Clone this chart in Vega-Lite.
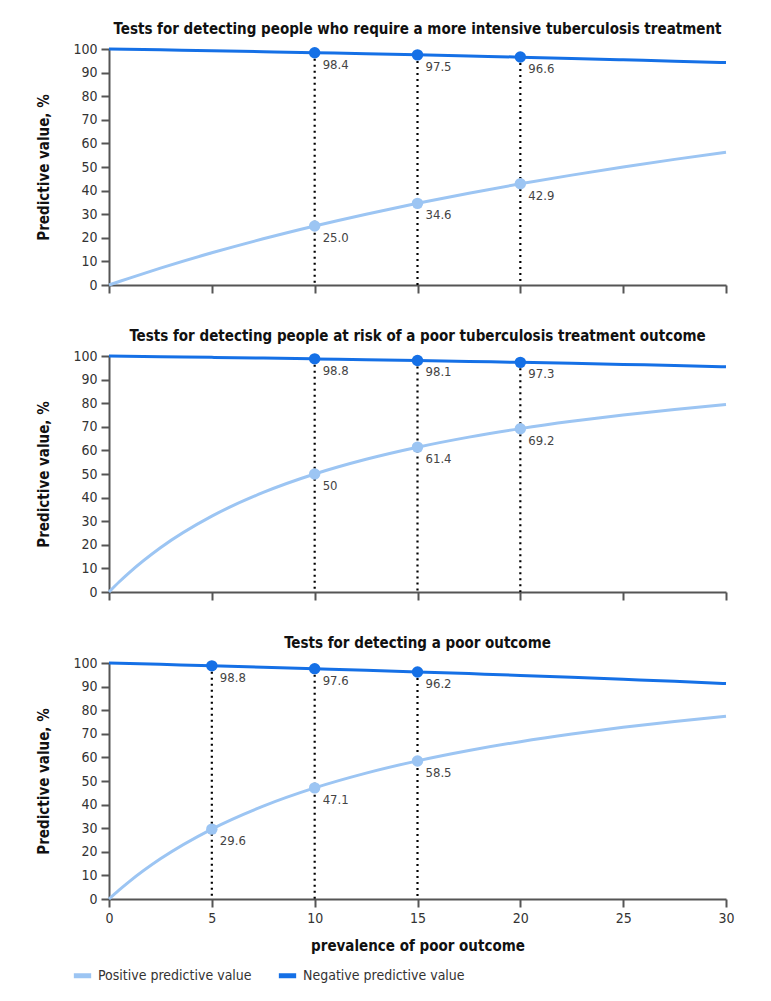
{
  "$schema": "https://vega.github.io/schema/vega-lite/v6.json",
  "background": "white",
  "padding": {"left": 36, "top": 22, "right": 30, "bottom": 10},
  "datasets": {
    "pts": [
      {"panel": "A", "p": 0, "s": "PPV", "v": 0},
      {"panel": "A", "p": 0.5, "s": "PPV", "v": 1.49},
      {"panel": "A", "p": 1, "s": "PPV", "v": 2.94},
      {"panel": "A", "p": 2.5, "s": "PPV", "v": 7.14},
      {"panel": "A", "p": 5, "s": "PPV", "v": 13.64},
      {"panel": "A", "p": 7.5, "s": "PPV", "v": 19.57},
      {"panel": "A", "p": 10, "s": "PPV", "v": 25.0},
      {"panel": "A", "p": 12.5, "s": "PPV", "v": 30.0},
      {"panel": "A", "p": 15, "s": "PPV", "v": 34.62},
      {"panel": "A", "p": 17.5, "s": "PPV", "v": 38.89},
      {"panel": "A", "p": 20, "s": "PPV", "v": 42.86},
      {"panel": "A", "p": 22.5, "s": "PPV", "v": 46.55},
      {"panel": "A", "p": 25, "s": "PPV", "v": 50.0},
      {"panel": "A", "p": 27.5, "s": "PPV", "v": 53.23},
      {"panel": "A", "p": 30, "s": "PPV", "v": 56.25},
      {"panel": "A", "p": 0, "s": "NPV", "v": 100},
      {"panel": "A", "p": 2.5, "s": "NPV", "v": 99.64},
      {"panel": "A", "p": 5, "s": "NPV", "v": 99.25},
      {"panel": "A", "p": 7.5, "s": "NPV", "v": 98.85},
      {"panel": "A", "p": 10, "s": "NPV", "v": 98.44},
      {"panel": "A", "p": 12.5, "s": "NPV", "v": 98.0},
      {"panel": "A", "p": 15, "s": "NPV", "v": 97.54},
      {"panel": "A", "p": 17.5, "s": "NPV", "v": 97.06},
      {"panel": "A", "p": 20, "s": "NPV", "v": 96.55},
      {"panel": "A", "p": 22.5, "s": "NPV", "v": 96.02},
      {"panel": "A", "p": 25, "s": "NPV", "v": 95.45},
      {"panel": "A", "p": 27.5, "s": "NPV", "v": 94.86},
      {"panel": "A", "p": 30, "s": "NPV", "v": 94.23},
      {"panel": "B", "p": 0, "s": "PPV", "v": 0},
      {"panel": "B", "p": 0.5, "s": "PPV", "v": 4.33},
      {"panel": "B", "p": 1, "s": "PPV", "v": 8.33},
      {"panel": "B", "p": 2.5, "s": "PPV", "v": 18.75},
      {"panel": "B", "p": 5, "s": "PPV", "v": 32.14},
      {"panel": "B", "p": 7.5, "s": "PPV", "v": 42.19},
      {"panel": "B", "p": 10, "s": "PPV", "v": 50.0},
      {"panel": "B", "p": 12.5, "s": "PPV", "v": 56.25},
      {"panel": "B", "p": 15, "s": "PPV", "v": 61.36},
      {"panel": "B", "p": 17.5, "s": "PPV", "v": 65.63},
      {"panel": "B", "p": 20, "s": "PPV", "v": 69.23},
      {"panel": "B", "p": 22.5, "s": "PPV", "v": 72.32},
      {"panel": "B", "p": 25, "s": "PPV", "v": 75.0},
      {"panel": "B", "p": 27.5, "s": "PPV", "v": 77.34},
      {"panel": "B", "p": 30, "s": "PPV", "v": 79.41},
      {"panel": "B", "p": 0, "s": "NPV", "v": 100},
      {"panel": "B", "p": 2.5, "s": "NPV", "v": 99.72},
      {"panel": "B", "p": 5, "s": "NPV", "v": 99.42},
      {"panel": "B", "p": 7.5, "s": "NPV", "v": 99.11},
      {"panel": "B", "p": 10, "s": "NPV", "v": 98.78},
      {"panel": "B", "p": 12.5, "s": "NPV", "v": 98.44},
      {"panel": "B", "p": 15, "s": "NPV", "v": 98.08},
      {"panel": "B", "p": 17.5, "s": "NPV", "v": 97.7},
      {"panel": "B", "p": 20, "s": "NPV", "v": 97.3},
      {"panel": "B", "p": 22.5, "s": "NPV", "v": 96.88},
      {"panel": "B", "p": 25, "s": "NPV", "v": 96.43},
      {"panel": "B", "p": 27.5, "s": "NPV", "v": 95.96},
      {"panel": "B", "p": 30, "s": "NPV", "v": 95.45},
      {"panel": "C", "p": 0, "s": "PPV", "v": 0},
      {"panel": "C", "p": 0.5, "s": "PPV", "v": 3.86},
      {"panel": "C", "p": 1, "s": "PPV", "v": 7.48},
      {"panel": "C", "p": 2.5, "s": "PPV", "v": 17.02},
      {"panel": "C", "p": 5, "s": "PPV", "v": 29.63},
      {"panel": "C", "p": 7.5, "s": "PPV", "v": 39.34},
      {"panel": "C", "p": 10, "s": "PPV", "v": 47.06},
      {"panel": "C", "p": 12.5, "s": "PPV", "v": 53.33},
      {"panel": "C", "p": 15, "s": "PPV", "v": 58.54},
      {"panel": "C", "p": 17.5, "s": "PPV", "v": 62.92},
      {"panel": "C", "p": 20, "s": "PPV", "v": 66.67},
      {"panel": "C", "p": 22.5, "s": "PPV", "v": 69.9},
      {"panel": "C", "p": 25, "s": "PPV", "v": 72.73},
      {"panel": "C", "p": 27.5, "s": "PPV", "v": 75.21},
      {"panel": "C", "p": 30, "s": "PPV", "v": 77.42},
      {"panel": "C", "p": 0, "s": "NPV", "v": 100},
      {"panel": "C", "p": 2.5, "s": "NPV", "v": 99.43},
      {"panel": "C", "p": 5, "s": "NPV", "v": 98.84},
      {"panel": "C", "p": 7.5, "s": "NPV", "v": 98.23},
      {"panel": "C", "p": 10, "s": "NPV", "v": 97.59},
      {"panel": "C", "p": 12.5, "s": "NPV", "v": 96.92},
      {"panel": "C", "p": 15, "s": "NPV", "v": 96.23},
      {"panel": "C", "p": 17.5, "s": "NPV", "v": 95.5},
      {"panel": "C", "p": 20, "s": "NPV", "v": 94.74},
      {"panel": "C", "p": 22.5, "s": "NPV", "v": 93.94},
      {"panel": "C", "p": 25, "s": "NPV", "v": 93.1},
      {"panel": "C", "p": 27.5, "s": "NPV", "v": 92.23},
      {"panel": "C", "p": 30, "s": "NPV", "v": 91.3}
    ],
    "dots": [
      {"panel": "A", "p": 10, "s": "PPV", "v": 25.0, "label": "25.0"},
      {"panel": "A", "p": 15, "s": "PPV", "v": 34.6, "label": "34.6"},
      {"panel": "A", "p": 20, "s": "PPV", "v": 42.9, "label": "42.9"},
      {"panel": "A", "p": 10, "s": "NPV", "v": 98.4, "label": "98.4"},
      {"panel": "A", "p": 15, "s": "NPV", "v": 97.5, "label": "97.5"},
      {"panel": "A", "p": 20, "s": "NPV", "v": 96.6, "label": "96.6"},
      {"panel": "B", "p": 10, "s": "PPV", "v": 50, "label": "50"},
      {"panel": "B", "p": 15, "s": "PPV", "v": 61.4, "label": "61.4"},
      {"panel": "B", "p": 20, "s": "PPV", "v": 69.2, "label": "69.2"},
      {"panel": "B", "p": 10, "s": "NPV", "v": 98.8, "label": "98.8"},
      {"panel": "B", "p": 15, "s": "NPV", "v": 98.1, "label": "98.1"},
      {"panel": "B", "p": 20, "s": "NPV", "v": 97.3, "label": "97.3"},
      {"panel": "C", "p": 5, "s": "PPV", "v": 29.6, "label": "29.6"},
      {"panel": "C", "p": 10, "s": "PPV", "v": 47.1, "label": "47.1"},
      {"panel": "C", "p": 15, "s": "PPV", "v": 58.5, "label": "58.5"},
      {"panel": "C", "p": 5, "s": "NPV", "v": 98.8, "label": "98.8"},
      {"panel": "C", "p": 10, "s": "NPV", "v": 97.6, "label": "97.6"},
      {"panel": "C", "p": 15, "s": "NPV", "v": 96.2, "label": "96.2"}
    ]
  },
  "vconcat": [
    {
      "title": "Tests for detecting people who require a more intensive tuberculosis treatment",
      "width": 617,
      "height": 236,
      "encoding": {
        "x": {"field": "p", "type": "quantitative", "scale": {"domain": [0, 30], "nice": false}, "axis": {"labels": false, "title": null, "values": [0, 5, 10, 15, 20, 25, 30]}},
        "y": {"field": "v", "type": "quantitative", "scale": {"domain": [0, 100], "nice": false}, "axis": {"title": "Predictive value, %", "values": [0, 10, 20, 30, 40, 50, 60, 70, 80, 90, 100]}}
      },
      "layer": [
        {
          "data": {"name": "dots"},
          "transform": [{"filter": "datum.panel == 'A' && datum.s == 'NPV'"}],
          "mark": {"type": "rule", "color": "black", "strokeWidth": 2.2, "strokeDash": [2, 4]},
          "encoding": {"y2": {"datum": 0}}
        },
        {
          "data": {"name": "pts"},
          "transform": [{"filter": "datum.panel == 'A'"}],
          "mark": {"type": "line", "interpolate": "monotone", "strokeWidth": 3},
          "encoding": {
            "color": {"field": "s", "type": "nominal", "scale": {"domain": ["PPV", "NPV"], "range": ["#9cc5f3", "#1570e6"]}, "legend": {"labelExpr": "datum.label == 'PPV' ? 'Positive predictive value' : 'Negative predictive value'"}},
            "detail": {"field": "s"}
          }
        },
        {
          "data": {"name": "dots"},
          "transform": [{"filter": "datum.panel == 'A'"}],
          "mark": {"type": "circle", "size": 130, "opacity": 1},
          "encoding": {"color": {"field": "s", "type": "nominal"}}
        },
        {
          "data": {"name": "dots"},
          "transform": [{"filter": "datum.panel == 'A'"}],
          "mark": {"type": "text", "align": "left", "baseline": "middle", "dx": 8, "dy": 12, "fontSize": 13, "color": "#444"},
          "encoding": {"text": {"field": "label"}}
        }
      ]
    },
    {
      "title": "Tests for detecting people at risk of a poor tuberculosis treatment outcome",
      "width": 617,
      "height": 236,
      "encoding": {
        "x": {"field": "p", "type": "quantitative", "scale": {"domain": [0, 30], "nice": false}, "axis": {"labels": false, "title": null, "values": [0, 5, 10, 15, 20, 25, 30]}},
        "y": {"field": "v", "type": "quantitative", "scale": {"domain": [0, 100], "nice": false}, "axis": {"title": "Predictive value, %", "values": [0, 10, 20, 30, 40, 50, 60, 70, 80, 90, 100]}}
      },
      "layer": [
        {
          "data": {"name": "dots"},
          "transform": [{"filter": "datum.panel == 'B' && datum.s == 'NPV'"}],
          "mark": {"type": "rule", "color": "black", "strokeWidth": 2.2, "strokeDash": [2, 4]},
          "encoding": {"y2": {"datum": 0}}
        },
        {
          "data": {"name": "pts"},
          "transform": [{"filter": "datum.panel == 'B'"}],
          "mark": {"type": "line", "interpolate": "monotone", "strokeWidth": 3},
          "encoding": {
            "color": {"field": "s", "type": "nominal", "legend": {"labelExpr": "datum.label == 'PPV' ? 'Positive predictive value' : 'Negative predictive value'"}},
            "detail": {"field": "s"}
          }
        },
        {
          "data": {"name": "dots"},
          "transform": [{"filter": "datum.panel == 'B'"}],
          "mark": {"type": "circle", "size": 130, "opacity": 1},
          "encoding": {"color": {"field": "s", "type": "nominal"}}
        },
        {
          "data": {"name": "dots"},
          "transform": [{"filter": "datum.panel == 'B'"}],
          "mark": {"type": "text", "align": "left", "baseline": "middle", "dx": 8, "dy": 12, "fontSize": 13, "color": "#444"},
          "encoding": {"text": {"field": "label"}}
        }
      ]
    },
    {
      "title": "Tests for detecting a poor outcome",
      "width": 617,
      "height": 236,
      "encoding": {
        "x": {"field": "p", "type": "quantitative", "scale": {"domain": [0, 30], "nice": false}, "axis": {"title": "prevalence of poor outcome", "values": [0, 5, 10, 15, 20, 25, 30]}},
        "y": {"field": "v", "type": "quantitative", "scale": {"domain": [0, 100], "nice": false}, "axis": {"title": "Predictive value, %", "values": [0, 10, 20, 30, 40, 50, 60, 70, 80, 90, 100]}}
      },
      "layer": [
        {
          "data": {"name": "dots"},
          "transform": [{"filter": "datum.panel == 'C' && datum.s == 'NPV'"}],
          "mark": {"type": "rule", "color": "black", "strokeWidth": 2.2, "strokeDash": [2, 4]},
          "encoding": {"y2": {"datum": 0}}
        },
        {
          "data": {"name": "pts"},
          "transform": [{"filter": "datum.panel == 'C'"}],
          "mark": {"type": "line", "interpolate": "monotone", "strokeWidth": 3},
          "encoding": {
            "color": {"field": "s", "type": "nominal", "legend": {"labelExpr": "datum.label == 'PPV' ? 'Positive predictive value' : 'Negative predictive value'"}},
            "detail": {"field": "s"}
          }
        },
        {
          "data": {"name": "dots"},
          "transform": [{"filter": "datum.panel == 'C'"}],
          "mark": {"type": "circle", "size": 130, "opacity": 1},
          "encoding": {"color": {"field": "s", "type": "nominal"}}
        },
        {
          "data": {"name": "dots"},
          "transform": [{"filter": "datum.panel == 'C'"}],
          "mark": {"type": "text", "align": "left", "baseline": "middle", "dx": 8, "dy": 12, "fontSize": 13, "color": "#444"},
          "encoding": {"text": {"field": "label"}}
        }
      ]
    }
  ],
  "spacing": 35,
  "config": {
    "font": "DejaVu Sans Condensed",
    "view": {"stroke": null},
    "title": {"fontSize": 15, "fontWeight": "bold", "font": "DejaVu Sans Condensed", "color": "#111", "anchor": "middle", "offset": 5},
    "axis": {
      "grid": false,
      "domainColor": "#555",
      "domainWidth": 2,
      "tickColor": "#555",
      "tickWidth": 2,
      "tickSize": 8,
      "labelFont": "DejaVu Sans Condensed",
      "labelFontSize": 14,
      "labelColor": "#333",
      "labelPadding": 4,
      "titleFont": "DejaVu Sans Condensed",
      "titleFontSize": 15,
      "titleFontWeight": "bold",
      "titleColor": "#111"
    },
    "axisY": {"titlePadding": 21},
    "axisX": {"titlePadding": 13, "labelFlush": false},
    "legend": {
      "title": null,
      "orient": "none",
      "legendX": -38,
      "legendY": 915,
      "direction": "horizontal",
      "symbolType": "stroke",
      "symbolStrokeWidth": 5,
      "symbolSize": 300,
      "labelFont": "DejaVu Sans Condensed",
      "labelFontSize": 14,
      "labelLimit": 300,
      "labelColor": "#333",
      "columnPadding": 16
    }
  }
}
